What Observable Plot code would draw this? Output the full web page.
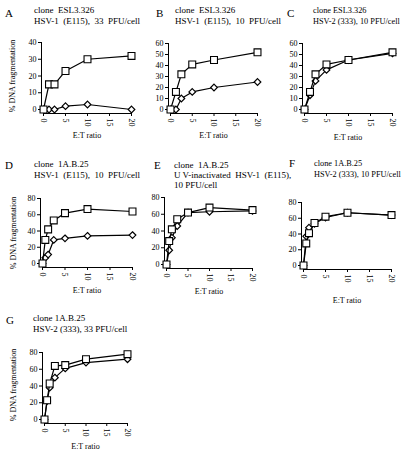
<!DOCTYPE html>
<html>
<head>
<meta charset="utf-8">
<script src="https://cdn.jsdelivr.net/npm/d3@7"></script>
<script src="https://cdn.jsdelivr.net/npm/@observablehq/plot@0.6"></script>
<style>
  html, body { margin: 0; padding: 0; background: #fff; }
  #root { position: relative; width: 401px; height: 453px; overflow: hidden; background: #fff; font-family: "Liberation Serif", "DejaVu Serif", serif; color: #000; }
  #root svg { position: absolute; overflow: visible; }
  #root svg text { font-family: "Liberation Serif", serif !important; }
  .t { position: absolute; white-space: pre; font-size: 9px; line-height: 11px; }
  .letter { position: absolute; font-size: 11px; line-height: 11px; }
  .lab { position: absolute; font-size: 8px; white-space: nowrap; }
</style>
</head>
<body>
<div id="root"></div>
<script>
// ---- data ----
const etShort = [0, 1.25, 2.5, 5, 10, 20];
const etLong = [0, 0.625, 1.25, 2.5, 5, 10, 20];
const xTicks = [0, 5, 10, 15, 20];

const sqA = [0, 15, 15, 23, 30, 32];
const diA = [0, 0, 0, 2, 3, 0];
const sqB = [0, 16, 32, 41, 45, 52];
const diB = [0, 0, 10, 16, 20, 25];
const sqC = [0, 16, 32, 41, 45, 52];
const diC = [0, 13, 26, 36, 45, 51];
const sqD = [0, 29, 42, 53, 62, 67, 64];
const diD = [0, 7, 11, 29, 31, 34, 35];
const sqE = [0, 28, 42, 54, 62, 68, 65];
const diE = [0, 17, 32, 46, 62, 63, 64];
const sqF = [0, 28, 41, 54, 62, 67, 64];
const diF = [0, 37, 48, 53, 61, 67, 64];
const sqG = [0, 23, 43, 64, 65, 72, 78];
const diG = [0, 22, 38, 50, 61, 68, 72];

const yTicks40 = [0, 10, 20, 30, 40];
const yTicks60 = [0, 10, 20, 30, 40, 50, 60];
const yTicks80 = [0, 20, 40, 60, 80];

const letters = ["A", "B", "C", "D", "E", "F", "G"];
const titles = [
  ["clone  ESL3.326", "HSV-1  (E115),  33  PFU/cell"],
  ["clone  ESL3.326", "HSV-1  (E115),  10  PFU/cell"],
  ["clone ESL3.326", "HSV-2 (333), 10 PFU/cell"],
  ["clone  1A.B.25", "HSV-1  (E115),  10  PFU/cell"],
  ["clone  1A.B.25", "U V-inactivated  HSV-1  (E115),", "10 PFU/cell"],
  ["clone 1A.B.25", "HSV-2 (333), 10 PFU/cell"],
  ["clone 1A.B.25", "HSV-2 (333), 33 PFU/cell"]
];
const xLabel = "E:T ratio";
const yLabel = "% DNA fragmentation";

// ---- layout (positions only) ----
const panels = [
  {et: etShort, sq: sqA, di: diA, yTicks: yTicks40, x0: 43, x20: 131, y0: 109, yTop: 42, lx: 5, ly: 8, tx: 34, ty: 5, fs: 9, etY: 131, yl: [12, 76]},
  {et: etShort, sq: sqB, di: diB, yTicks: yTicks60, x0: 170, x20: 257, y0: 109, yTop: 43, lx: 156, ly: 8, tx: 175, ty: 5, fs: 9, etY: 131},
  {et: etShort, sq: sqC, di: diC, yTicks: yTicks60, x0: 304, x20: 392, y0: 109, yTop: 43, lx: 287, ly: 8, tx: 313, ty: 5, fs: 8.3, etY: 133},
  {et: etLong, sq: sqD, di: diD, yTicks: yTicks80, x0: 42, x20: 132, y0: 263, yTop: 198, lx: 5, ly: 160, tx: 34, ty: 159, fs: 9, etY: 286, yl: [13, 233]},
  {et: etLong, sq: sqE, di: diE, yTicks: yTicks80, x0: 166, x20: 252, y0: 264, yTop: 197, lx: 154, ly: 160, tx: 174, ty: 160, fs: 9, etY: 287},
  {et: etLong, sq: sqF, di: diF, yTicks: yTicks80, x0: 303, x20: 391, y0: 265, yTop: 202, lx: 289, ly: 158, tx: 314, ty: 158, fs: 8.3, etY: 296},
  {et: etLong, sq: sqG, di: diG, yTicks: yTicks80, x0: 44, x20: 127, y0: 419, yTop: 352, lx: 6, ly: 315, tx: 33, ty: 313, fs: 9, etY: 442, yl: [13, 385]}
];

const root = document.getElementById("root");
const ML = 30, MR = 8, MT = 6, MB = 30;

panels.forEach((p, i) => {
  const yMax = p.yTicks[p.yTicks.length - 1];
  const sqData = p.et.map((e, k) => ({e, v: p.sq[k]}));
  const diData = p.et.map((e, k) => ({e, v: p.di[k]}));
  const w = (p.x20 - p.x0) + ML + MR;
  const h = (p.y0 - p.yTop) + MT + MB;
  const svg = Plot.plot({
    width: w,
    height: h,
    marginLeft: ML, marginRight: MR, marginTop: MT, marginBottom: MB,
    style: {fontFamily: "'Liberation Serif', serif", fontSize: "8px", background: "transparent", overflow: "visible"},
    x: {domain: [0, 20]},
    y: {domain: [0, yMax]},
    marks: [
      Plot.ruleX([0], {y1: 0, y2: yMax, dx: -2, stroke: "black", strokeWidth: 1}),
      Plot.ruleY([0], {x1: 0, x2: 20, dy: 4, stroke: "black", strokeWidth: 1}),
      Plot.axisY({ticks: p.yTicks, tickSize: 3, tickPadding: 2, dx: -2, label: null, tickFormat: d => d}),
      Plot.axisX({ticks: xTicks, tickSize: 3, tickPadding: 2, dy: 4, tickRotate: 90, label: null, tickFormat: d => d}),
      Plot.line(diData, {x: "e", y: "v", stroke: "black", strokeWidth: 1.2}),
      Plot.dot(diData, {x: "e", y: "v", symbol: "diamond2", r: 3, fill: "white", stroke: "black", strokeWidth: 1.2}),
      Plot.line(sqData, {x: "e", y: "v", stroke: "black", strokeWidth: 1.2}),
      Plot.dot(sqData, {x: "e", y: "v", symbol: "square", r: 3.9, fill: "white", stroke: "black", strokeWidth: 1.1})
    ]
  });
  svg.setAttribute("font-family", "Liberation Serif, serif");
  svg.style.left = (p.x0 - ML) + "px";
  svg.style.top = (p.yTop - MT) + "px";
  root.appendChild(svg);

  const L = document.createElement("div");
  L.className = "letter";
  L.textContent = letters[i];
  L.style.left = p.lx + "px";
  L.style.top = p.ly + "px";
  root.appendChild(L);

  titles[i].forEach((line, j) => {
    const t = document.createElement("div");
    t.className = "t";
    t.textContent = line;
    t.style.fontSize = p.fs + "px";
    t.style.left = p.tx + "px";
    t.style.top = (p.ty + j * (titles[i].length === 3 ? 10 : 11)) + "px";
    root.appendChild(t);
  });

  const xl = document.createElement("div");
  xl.className = "lab";
  xl.textContent = xLabel;
  xl.style.left = ((p.x0 + p.x20) / 2) + "px";
  xl.style.top = p.etY + "px";
  xl.style.transform = "translateX(-50%)";
  root.appendChild(xl);

  if (p.yl) {
    const yl = document.createElement("div");
    yl.className = "lab";
    yl.textContent = yLabel;
    yl.style.left = p.yl[0] + "px";
    yl.style.top = p.yl[1] + "px";
    yl.style.transform = "translate(-50%, -50%) rotate(-90deg)";
    root.appendChild(yl);
  }
});
</script>
</body>
</html>
